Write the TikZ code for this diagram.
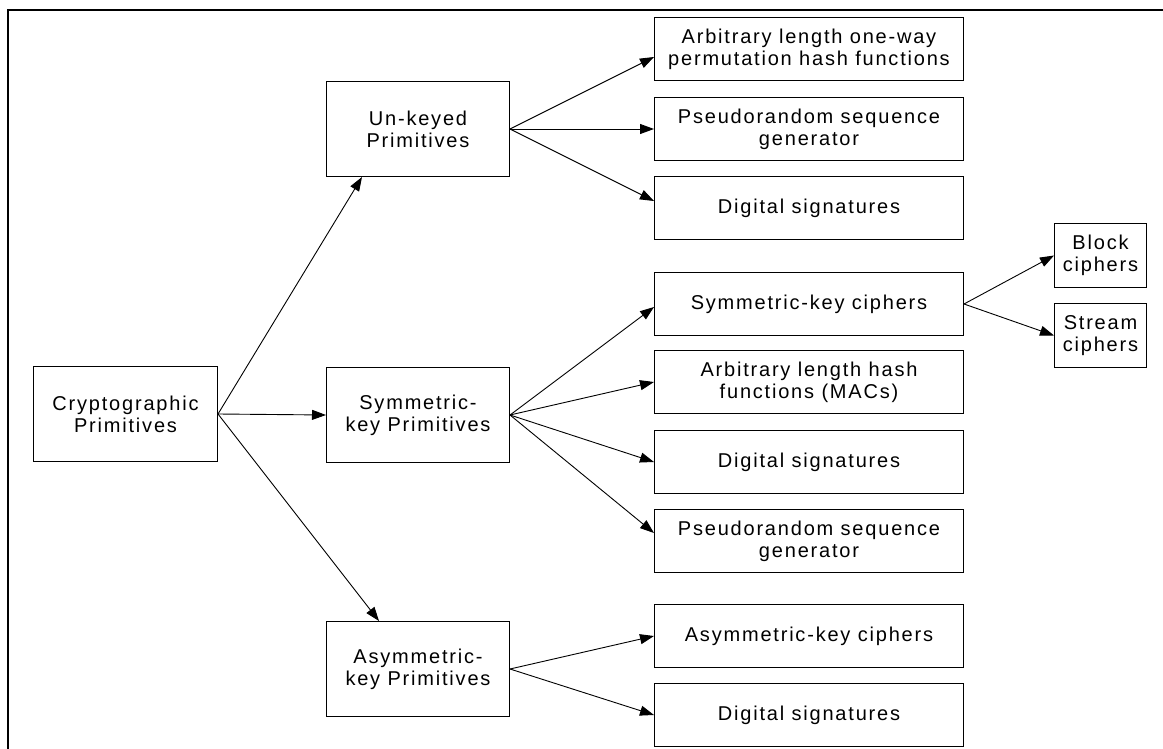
\documentclass[tikz,border=0pt]{standalone}
\usepackage{fontspec}
\setmainfont{Liberation Sans}[LetterSpace=9]
\usetikzlibrary{arrows.meta}
\begin{document}
\begin{tikzpicture}[x=1pt,y=-1pt,
  box/.style={draw=black, line width=1pt, rectangle, inner sep=0pt,
    anchor=north west, align=center, font=\fontsize{20}{22}\selectfont},
  mid/.style={box, minimum width=183pt, minimum height=95pt},
  leaf/.style={box, minimum width=309pt, minimum height=63pt},
  tiny/.style={box, minimum width=92pt, minimum height=64pt},
  link/.style={draw=black, line width=0.9pt,
    -{Triangle[length=14pt,width=10pt]}}]
\useasboundingbox (0,0) rectangle (1163,749);
\fill[white] (0,0) rectangle (1163,749);
% outer frame (left and top edges)
\draw[line width=2.5pt] (8,749) -- (8,10) -- (1163,10);

% root
\node[mid, minimum width=184pt] (crypto) at (33,366) {Cryptographic\\Primitives};

% second level
\node[mid] (unk)  at (326,81)  {Un-keyed\\Primitives};
\node[mid] (sym)  at (326,367) {Symmetric-\\key Primitives};
\node[mid] (asym) at (326,621) {Asymmetric-\\key Primitives};

% leaves of the un-keyed branch
\node[leaf] (l1) at (654,17)  {Arbitrary length one-way\\permutation hash functions};
\node[leaf] (l2) at (654,97)  {Pseudorandom sequence\\generator};
\node[leaf] (l3) at (654,176) {Digital signatures};

% leaves of the symmetric-key branch
\node[leaf] (s1) at (654,272) {Symmetric-key ciphers};
\node[leaf] (s2) at (654,350) {Arbitrary length hash\\functions (MACs)};
\node[leaf] (s3) at (654,430) {Digital signatures};
\node[leaf] (s4) at (654,509) {Pseudorandom sequence\\generator};

% leaves of the asymmetric-key branch
\node[leaf] (a1) at (654,604) {Asymmetric-key ciphers};
\node[leaf] (a2) at (654,683) {Digital signatures};

% kinds of symmetric-key ciphers
\node[tiny] (blk)  at (1054,223) {Block\\ciphers};
\node[tiny] (strm) at (1054,303) {Stream\\ciphers};

% connectors
\draw[link] (crypto.east) -- ([xshift=36pt]unk.south west);
\draw[link] (crypto.east) -- (sym.west);
\draw[link] (crypto.east) -- ([xshift=53pt]asym.north west);

\draw[link] (unk.east) -- ([yshift=-8pt]l1.west);
\draw[link] (unk.east) -- (l2.west);
\draw[link] (unk.east) -- ([yshift=7pt]l3.west);

\draw[link] (sym.east) -- ([yshift=-3pt]s1.west);
\draw[link] (sym.east) -- (s2.west);
\draw[link] (sym.east) -- (s3.west);
\draw[link] (sym.east) -- ([yshift=8pt]s4.west);

\draw[link] (asym.east) -- (a1.west);
\draw[link] (asym.east) -- (a2.west);

\draw[link] (s1.east) -- (blk.west);
\draw[link] (s1.east) -- (strm.west);
\end{tikzpicture}
\end{document}
